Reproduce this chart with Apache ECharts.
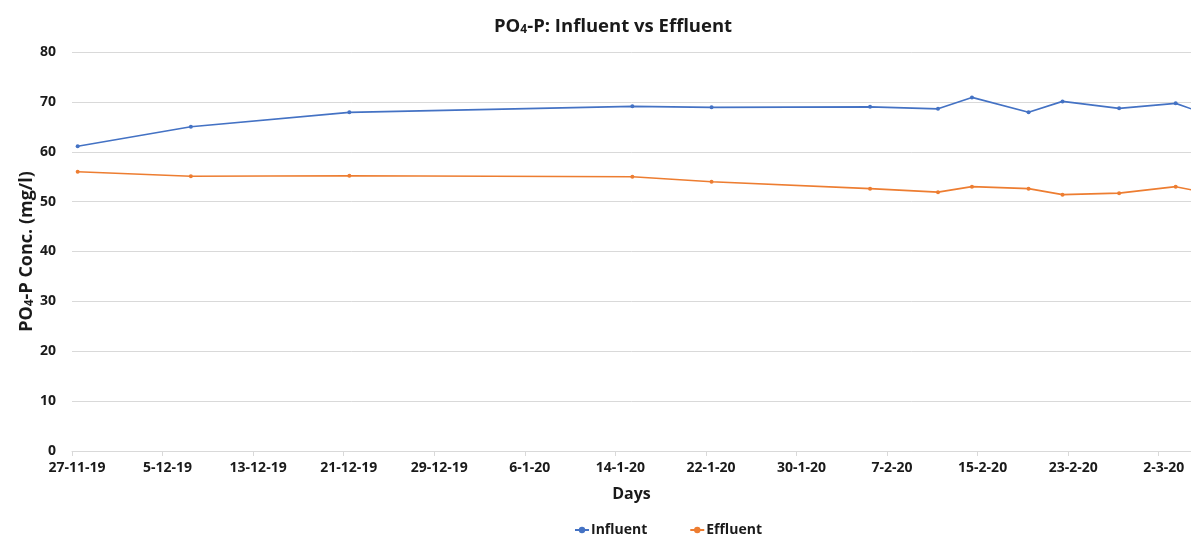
<!DOCTYPE html>
<html>
<head>
<meta charset="utf-8">
<script src="https://cdn.jsdelivr.net/npm/echarts@6/dist/echarts.min.js"></script>
<style>
html,body{margin:0;padding:0;background:#fff;}
#c{width:1191px;height:534px;}
</style>
</head>
<body>
<div id="c"></div>
<script>
// Sampling dates (d-m-yy)
const dates = ['27-11-19','7-12-19','21-12-19','15-1-20','22-1-20','5-2-20','11-2-20','14-2-20','19-2-20','22-2-20','27-2-20','3-3-20','5-3-20'];
// PO4-P concentration (mg/l)
const influent = [61.1, 65.0, 67.9, 69.1, 68.9, 69.0, 68.6, 70.9, 67.9, 70.1, 68.7, 69.7, 68.1];
const effluent = [56.0, 55.1, 55.2, 55.0, 54.0, 52.6, 51.9, 53.0, 52.6, 51.4, 51.7, 53.0, 52.1];
// Axis settings
const axisStart = '27-11-19';
const tickStepDays = 8;
const axisEndDays = 98.85;
const yTicks = [0, 10, 20, 30, 40, 50, 60, 70, 80];

function parseD(s){ const p = s.split('-').map(Number); return Date.UTC(2000 + p[2], p[1] - 1, p[0]); }
const START = parseD(axisStart);
const DAY = 86400000;
function dayOf(s){ return (parseD(s) - START) / DAY; }
function fmtDay(v){ const d = new Date(START + v * DAY); return d.getUTCDate() + '-' + (d.getUTCMonth() + 1) + '-' + String(d.getUTCFullYear()).slice(2); }

const FONT = '"Open Sans", "Liberation Sans", sans-serif';
const TXT = '#1a1a1a';

const chart = echarts.init(document.getElementById('c'), null, {renderer: 'canvas'});
chart.setOption({
  animation: false,
  backgroundColor: '#ffffff',
  textStyle: {fontFamily: FONT},
  title: {
    text: '{a|PO}{s|4}{a|-P: Influent vs Effluent}',
    left: 489, top: 7,
    textStyle: {
      rich: {
        a: {fontFamily: FONT, fontSize: 18.5, fontWeight: 'bold', color: TXT, lineHeight: 24, verticalAlign: 'bottom'},
        s: {fontFamily: FONT, fontSize: 12, fontWeight: 'bold', color: TXT, lineHeight: 12, padding: [12, 0, 0, 0], verticalAlign: 'bottom'}
      }
    }
  },
  legend: {
    left: 569, top: 518,
    itemGap: 42, itemWidth: 14, itemHeight: 8,
    textStyle: {fontFamily: FONT, fontSize: 14, fontWeight: 'bold', color: TXT, padding: [0,0,0,-3]},
    data: ['Influent', 'Effluent']
  },
  grid: {left: 72, right: 0, top: 52, bottom: 83, containLabel: false, outerBoundsMode: 'none'},
  xAxis: {
    type: 'value',
    min: 0, max: axisEndDays, interval: tickStepDays,
    name: 'Days', nameLocation: 'middle', nameGap: 35, nameMoveOverlap: false,
    nameTextStyle: {fontFamily: FONT, fontSize: 16, fontWeight: 'bold', color: TXT},
    axisLine: {show: true, lineStyle: {color: '#d9d9d9', width: 1}},
    axisTick: {show: true, length: 5, lineStyle: {color: '#d9d9d9'}},
    splitLine: {show: false},
    axisLabel: {
      margin: 10, fontFamily: FONT, fontSize: 14, fontWeight: 'bold', color: TXT,
      padding: [0, 0, 0, 10],
      showMaxLabel: false,
      formatter: function(v){ return (Math.abs(v % tickStepDays) < 1e-6) ? fmtDay(v) : ''; }
    }
  },
  yAxis: {
    type: 'value',
    min: yTicks[0], max: yTicks[yTicks.length - 1], interval: yTicks[1] - yTicks[0],
    name: '{a|PO}{s|4}{a|-P Conc. (mg/l)}', nameLocation: 'middle', nameGap: 36, nameRotate: 90,
    nameMoveOverlap: false,
    nameTextStyle: {
      rich: {
        a: {fontFamily: FONT, fontSize: 18, fontWeight: 'bold', color: TXT, lineHeight: 24, verticalAlign: 'bottom'},
        s: {fontFamily: FONT, fontSize: 12, fontWeight: 'bold', color: TXT, lineHeight: 12, padding: [12, 0, 0, 0], verticalAlign: 'bottom'}
      }
    },
    axisLine: {show: false},
    axisTick: {show: false},
    splitLine: {show: true, lineStyle: {color: '#d9d9d9', width: 1}},
    axisLabel: {margin: 16, fontFamily: FONT, fontSize: 14, fontWeight: 'bold', color: TXT}
  },
  series: [
    {
      name: 'Influent', type: 'line',
      data: dates.map((d, i) => [dayOf(d) + 0.5, influent[i]]),
      symbol: 'circle', symbolSize: 4, showSymbol: true,
      lineStyle: {color: '#4472C4', width: 1.6},
      itemStyle: {color: '#4472C4'},
      clip: true
    },
    {
      name: 'Effluent', type: 'line',
      data: dates.map((d, i) => [dayOf(d) + 0.5, effluent[i]]),
      symbol: 'circle', symbolSize: 4, showSymbol: true,
      lineStyle: {color: '#ED7D31', width: 1.6},
      itemStyle: {color: '#ED7D31'},
      clip: true
    }
  ]
});
</script>
</body>
</html>
